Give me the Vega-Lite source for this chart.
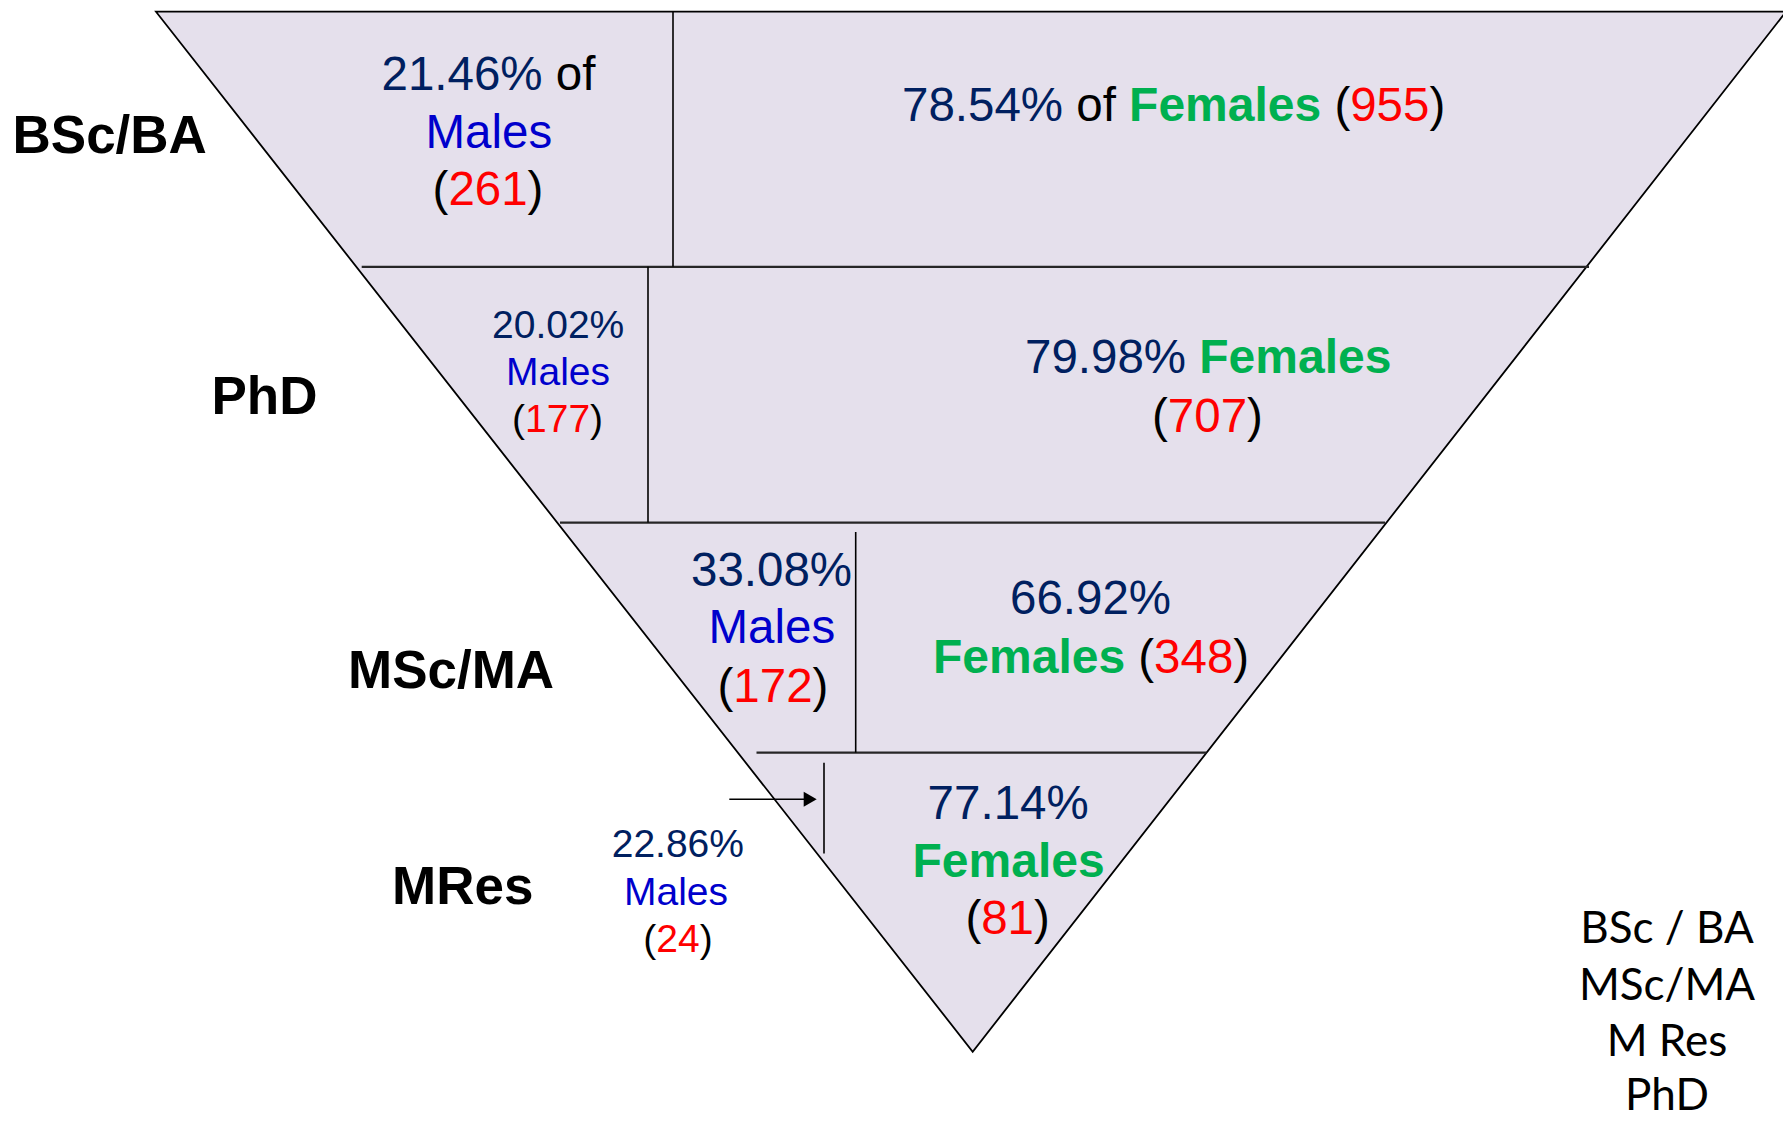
{
  "$schema": "https://vega.github.io/schema/vega-lite/v6.json",
  "width": 1783,
  "height": 1121,
  "padding": 0,
  "autosize": "none",
  "background": "white",
  "config": {"view": {"stroke": null}},
  "datasets": {
    "shape": [
      {"x": 156, "y": 11.7, "y2": 11.7},
      {"x": 972.7, "y": 11.7, "y2": 1051.7},
      {"x": 1786, "y": 11.7, "y2": 11.7}
    ],
    "hlines": [
      {"x": 361.7, "x2": 1589, "y": 266.8, "y2": 266.8},
      {"x": 560, "x2": 1385, "y": 522.6, "y2": 522.6},
      {"x": 756.5, "x2": 1206.5, "y": 752.6, "y2": 752.6}
    ],
    "vlines": [
      {"x": 673, "x2": 673, "y": 11.7, "y2": 266.8},
      {"x": 648, "x2": 648, "y": 266.8, "y2": 522.6},
      {"x": 855.7, "x2": 855.7, "y": 532, "y2": 752.6},
      {"x": 824, "x2": 824, "y": 762.7, "y2": 853.6},
      {"x": 729.3, "x2": 805, "y": 799.3, "y2": 799.3}
    ],
    "arrowhead": [{"x": 810.2, "y": 799.3}],
    "texts": [
      {"degree": "BSc/BA", "sex": "M", "part": "pct", "t": "21.46%", "x": 381.5, "y": 90},
      {"degree": "BSc/BA", "sex": "M", "part": "of", "t": "of", "x": 555.8, "y": 90},
      {"degree": "BSc/BA", "sex": "M", "part": "males", "t": "Males", "x": 425.5, "y": 147.5},
      {"degree": "BSc/BA", "sex": "M", "part": "paren", "t": "(", "x": 432.6, "y": 205},
      {"degree": "BSc/BA", "sex": "M", "part": "count", "t": "261", "x": 448.4, "y": 205},
      {"degree": "BSc/BA", "sex": "M", "part": "paren", "t": ")", "x": 527.6, "y": 205},
      {"degree": "BSc/BA", "sex": "F", "part": "pct", "t": "78.54%", "x": 902, "y": 120.7},
      {"degree": "BSc/BA", "sex": "F", "part": "of", "t": "of", "x": 1076.3, "y": 120.7},
      {"degree": "BSc/BA", "sex": "F", "part": "females", "t": "Females", "x": 1129.1, "y": 120.7},
      {"degree": "BSc/BA", "sex": "F", "part": "paren", "t": "(", "x": 1334.4, "y": 120.7},
      {"degree": "BSc/BA", "sex": "F", "part": "count", "t": "955", "x": 1350.2, "y": 120.7},
      {"degree": "BSc/BA", "sex": "F", "part": "paren", "t": ")", "x": 1429.4, "y": 120.7},
      {"degree": "PhD", "sex": "M", "part": "pct", "t": "20.02%", "x": 492, "y": 337.5},
      {"degree": "PhD", "sex": "M", "part": "males", "t": "Males", "x": 506, "y": 385},
      {"degree": "PhD", "sex": "M", "part": "paren", "t": "(", "x": 512, "y": 432},
      {"degree": "PhD", "sex": "M", "part": "count", "t": "177", "x": 525, "y": 432},
      {"degree": "PhD", "sex": "M", "part": "paren", "t": ")", "x": 590, "y": 432},
      {"degree": "PhD", "sex": "F", "part": "pct", "t": "79.98%", "x": 1025, "y": 373},
      {"degree": "PhD", "sex": "F", "part": "females", "t": "Females", "x": 1199.3, "y": 373},
      {"degree": "PhD", "sex": "F", "part": "paren", "t": "(", "x": 1152, "y": 432},
      {"degree": "PhD", "sex": "F", "part": "count", "t": "707", "x": 1167.8, "y": 432},
      {"degree": "PhD", "sex": "F", "part": "paren", "t": ")", "x": 1247, "y": 432},
      {"degree": "MSc/MA", "sex": "M", "part": "pct", "t": "33.08%", "x": 691, "y": 585.7},
      {"degree": "MSc/MA", "sex": "M", "part": "males", "t": "Males", "x": 708.5, "y": 643},
      {"degree": "MSc/MA", "sex": "M", "part": "paren", "t": "(", "x": 717.5, "y": 702},
      {"degree": "MSc/MA", "sex": "M", "part": "count", "t": "172", "x": 733.3, "y": 702},
      {"degree": "MSc/MA", "sex": "M", "part": "paren", "t": ")", "x": 812.5, "y": 702},
      {"degree": "MSc/MA", "sex": "F", "part": "pct", "t": "66.92%", "x": 1010, "y": 613.6},
      {"degree": "MSc/MA", "sex": "F", "part": "females", "t": "Females", "x": 933, "y": 673},
      {"degree": "MSc/MA", "sex": "F", "part": "paren", "t": "(", "x": 1138.3, "y": 673},
      {"degree": "MSc/MA", "sex": "F", "part": "count", "t": "348", "x": 1154.1, "y": 673},
      {"degree": "MSc/MA", "sex": "F", "part": "paren", "t": ")", "x": 1233.3, "y": 673},
      {"degree": "MRes", "sex": "M", "part": "pct", "t": "22.86%", "x": 611.7, "y": 857},
      {"degree": "MRes", "sex": "M", "part": "males", "t": "Males", "x": 624, "y": 905},
      {"degree": "MRes", "sex": "M", "part": "paren", "t": "(", "x": 643.3, "y": 952},
      {"degree": "MRes", "sex": "M", "part": "count", "t": "24", "x": 656.3, "y": 952},
      {"degree": "MRes", "sex": "M", "part": "paren", "t": ")", "x": 699.7, "y": 952},
      {"degree": "MRes", "sex": "F", "part": "pct", "t": "77.14%", "x": 927.6, "y": 818.6},
      {"degree": "MRes", "sex": "F", "part": "females", "t": "Females", "x": 912.5, "y": 877},
      {"degree": "MRes", "sex": "F", "part": "paren", "t": "(", "x": 965.4, "y": 934},
      {"degree": "MRes", "sex": "F", "part": "count", "t": "81", "x": 981.2, "y": 934},
      {"degree": "MRes", "sex": "F", "part": "paren", "t": ")", "x": 1034, "y": 934},
      {"degree": "BSc/BA", "sex": "", "part": "label", "t": "BSc/BA", "x": 12.5, "y": 153},
      {"degree": "PhD", "sex": "", "part": "label", "t": "PhD", "x": 211.5, "y": 414.3},
      {"degree": "MSc/MA", "sex": "", "part": "label", "t": "MSc/MA", "x": 348, "y": 687.5},
      {"degree": "MRes", "sex": "", "part": "label", "t": "MRes", "x": 392, "y": 903.6},
      {"degree": "", "sex": "", "part": "legend", "t": "BSc / BA", "x": 1667, "y": 943},
      {"degree": "", "sex": "", "part": "legend", "t": "MSc/MA", "x": 1667, "y": 1000},
      {"degree": "", "sex": "", "part": "legend", "t": "M Res", "x": 1667, "y": 1056},
      {"degree": "", "sex": "", "part": "legend", "t": "PhD", "x": 1667, "y": 1110}
    ]
  },
  "encoding": {
    "x": {"field": "x", "type": "quantitative", "axis": null, "scale": {"domain": [0, 1783], "nice": false, "zero": false}},
    "y": {"field": "y", "type": "quantitative", "axis": null, "scale": {"domain": [0, 1121], "nice": false, "zero": false, "reverse": true}}
  },
  "layer": [
    {
      "data": {"name": "shape"},
      "mark": {"type": "area", "orient": "vertical", "fill": "#E5E0EC", "fillOpacity": 1, "stroke": "#000000", "strokeWidth": 1.8, "clip": false},
      "encoding": {"y2": {"field": "y2"}}
    },
    {
      "data": {"name": "hlines"},
      "mark": {"type": "rule", "stroke": "#262626", "strokeWidth": 2.2},
      "encoding": {"x2": {"field": "x2"}, "y2": {"field": "y2"}}
    },
    {
      "data": {"name": "vlines"},
      "mark": {"type": "rule", "stroke": "#000000", "strokeWidth": 1.6},
      "encoding": {"x2": {"field": "x2"}, "y2": {"field": "y2"}}
    },
    {
      "data": {"name": "arrowhead"},
      "mark": {"type": "point", "shape": "triangle-right", "size": 225, "filled": true, "fill": "#000000", "strokeWidth": 0, "opacity": 1}
    },
    {
      "data": {"name": "texts"},
      "transform": [{"filter": "datum.part !== 'females' && datum.part !== 'label' && datum.part !== 'legend' && !(datum.sex === 'M' && (datum.degree === 'PhD' || datum.degree === 'MRes'))"}],
      "mark": {"type": "text", "font": "Liberation Sans", "fontSize": 47.5, "align": "left", "baseline": "alphabetic"},
      "encoding": {
        "text": {"field": "t"},
        "color": {"field": "part", "type": "nominal", "legend": null, "scale": {"domain": ["pct", "of", "paren", "count", "males", "females", "label", "legend"], "range": ["#002060", "#000000", "#000000", "#FF0000", "#0000CC", "#00B050", "#000000", "#000000"]}}
      }
    },
    {
      "data": {"name": "texts"},
      "transform": [{"filter": "datum.sex === 'M' && (datum.degree === 'PhD' || datum.degree === 'MRes')"}],
      "mark": {"type": "text", "font": "Liberation Sans", "fontSize": 39, "align": "left", "baseline": "alphabetic"},
      "encoding": {
        "text": {"field": "t"},
        "color": {"field": "part", "type": "nominal", "legend": null}
      }
    },
    {
      "data": {"name": "texts"},
      "transform": [{"filter": "datum.part === 'females'"}],
      "mark": {"type": "text", "font": "Liberation Sans", "fontSize": 48, "fontWeight": "bold", "align": "left", "baseline": "alphabetic"},
      "encoding": {
        "text": {"field": "t"},
        "color": {"field": "part", "type": "nominal", "legend": null}
      }
    },
    {
      "data": {"name": "texts"},
      "transform": [{"filter": "datum.part === 'label'"}],
      "mark": {"type": "text", "font": "Liberation Sans", "fontSize": 53, "fontWeight": "bold", "align": "left", "baseline": "alphabetic"},
      "encoding": {
        "text": {"field": "t"},
        "color": {"field": "part", "type": "nominal", "legend": null}
      }
    },
    {
      "data": {"name": "texts"},
      "transform": [{"filter": "datum.part === 'legend'"}],
      "mark": {"type": "text", "font": "Lato", "fontSize": 44, "align": "center", "baseline": "alphabetic"},
      "encoding": {
        "text": {"field": "t"},
        "color": {"field": "part", "type": "nominal", "legend": null}
      }
    }
  ]
}
